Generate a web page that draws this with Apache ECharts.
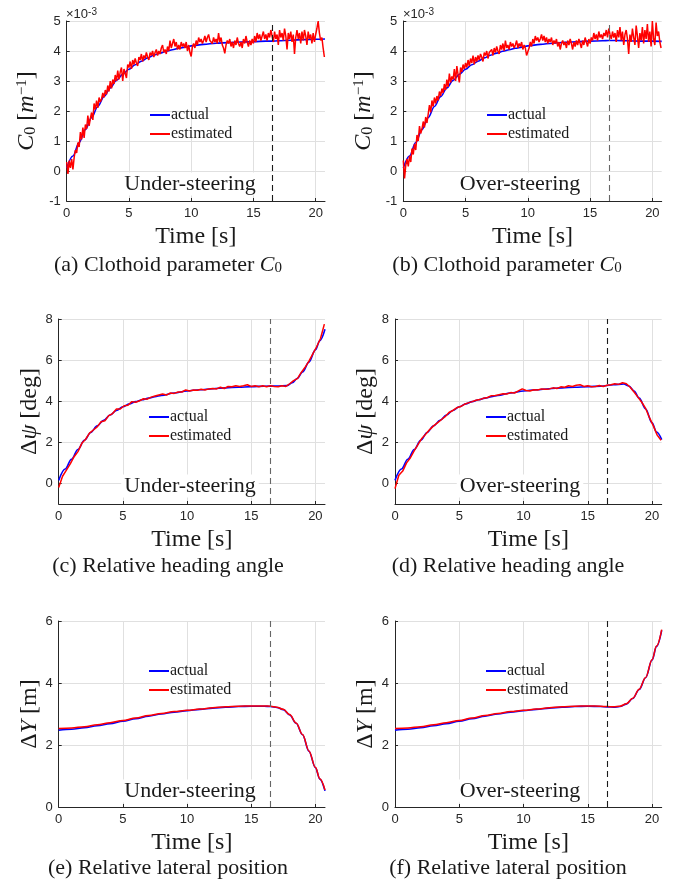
<!DOCTYPE html>
<html><head><meta charset="utf-8">
<script src="https://cdn.jsdelivr.net/npm/echarts@6/dist/echarts.min.js"></script>
<style>html,body{margin:0;padding:0;background:#fff}#c{width:673px;height:895px}</style>
</head><body><div id="c"></div><script>
// ---------- data ----------
const C0_STEP = 0.1;   // s, sampling of the estimated C0 traces (x 1e-3 1/m)
const c0EstUnder = [
 0.30,-0.10,0.35,0.10,0.40,0.05,0.45,0.70,0.60,0.95,
 0.80,1.30,1.05,1.45,1.10,1.55,1.40,1.85,1.50,1.75,
 1.95,1.70,2.25,2.05,2.35,2.10,2.45,2.30,2.40,2.60,
 2.45,2.70,2.55,2.85,2.65,3.00,2.75,3.05,2.90,3.20,
 3.00,3.35,3.05,3.30,3.45,3.00,3.40,3.25,3.10,3.55,
 3.45,3.65,3.40,3.70,3.55,3.75,3.60,3.50,3.80,3.70,
 3.90,3.65,3.85,3.75,3.95,3.80,3.70,3.95,3.85,4.00,
 3.80,3.95,4.05,3.85,4.00,3.90,4.10,4.20,3.95,4.05,
 3.90,4.15,4.00,4.35,4.10,4.25,4.40,4.15,4.30,4.05,
 4.20,4.05,4.30,4.15,4.25,4.10,4.30,4.00,4.20,3.95,
 3.82,4.15,4.25,4.10,4.35,4.20,4.45,4.30,4.40,4.25,
 4.35,4.50,4.30,4.45,4.55,4.35,4.40,4.25,4.45,4.30,
 4.40,4.25,4.60,4.30,4.45,4.20,4.10,3.92,4.20,4.35,
 4.25,4.40,4.15,4.30,4.10,4.35,4.20,4.45,4.25,4.15,
 4.30,4.10,4.40,4.25,4.50,4.30,4.15,4.35,4.20,4.40,
 4.25,4.50,4.30,4.60,4.40,4.55,4.35,4.50,4.65,4.40,
 4.55,4.35,4.60,4.45,4.70,4.50,4.30,4.65,4.40,4.55,
 4.20,4.70,4.45,4.60,4.35,4.75,4.50,4.05,4.60,4.40,
 4.65,4.30,4.55,3.90,4.45,4.70,4.40,4.60,4.25,4.65,
 4.35,4.70,4.50,4.20,4.65,4.40,4.55,4.25,4.60,4.30,
 4.55,4.75,5.00,4.60,4.35,4.45,4.10,3.80
];
const c0EstOver = [
 0.35,-0.25,0.20,0.40,0.15,0.50,0.30,0.75,0.55,0.90,
 0.70,1.20,1.00,1.50,1.25,1.40,1.65,1.45,1.80,1.60,
 1.90,2.20,1.95,2.35,2.15,2.45,2.25,2.50,2.35,2.65,
 2.50,2.75,2.60,2.90,2.70,3.05,2.80,3.25,2.95,3.15,
 3.05,3.40,3.00,3.50,3.20,2.95,3.45,3.30,3.55,3.40,
 3.60,3.45,3.70,3.50,3.75,3.60,3.85,3.55,3.80,3.65,
 3.85,3.70,3.90,3.80,3.65,3.95,3.85,4.00,3.75,3.95,
 3.90,4.05,3.85,4.10,3.95,4.15,4.00,3.90,4.20,4.05,
 4.25,4.00,4.35,4.10,4.20,4.05,4.30,4.15,4.25,4.10,
 4.20,4.35,4.10,4.25,4.15,4.30,4.05,4.20,4.10,3.85,
 3.80,4.10,4.30,4.15,4.40,4.25,4.50,4.35,4.45,4.30,
 4.40,4.55,4.35,4.50,4.30,4.45,4.25,4.40,4.30,4.45,
 4.20,4.35,4.25,4.40,4.15,4.30,4.05,4.25,4.35,4.20,
 4.30,4.10,4.35,4.20,4.40,4.25,4.05,4.30,4.15,4.35,
 4.20,4.40,4.25,4.10,4.35,4.20,4.45,4.30,4.15,4.40,
 4.25,4.45,4.35,4.60,4.40,4.55,4.35,4.65,4.45,4.55,
 4.40,4.60,4.50,4.70,4.45,4.75,4.55,4.40,4.65,4.45,
 4.60,4.30,4.70,4.45,4.80,4.35,4.65,4.20,4.55,4.70,
 4.40,3.90,4.55,4.30,4.75,4.45,4.20,4.85,4.50,4.10,
 4.60,4.35,4.80,4.25,4.70,4.40,4.90,4.30,4.65,4.15,
 5.00,4.40,4.20,4.95,4.50,4.65,4.30,4.10
];
const c0ActT = [0,0.5,1,1.5,2,2.5,3,3.5,4,4.5,5,5.5,6,6.5,7,7.5,8,8.5,9,9.5,10,11,12,13,14,15,16,16.5,17,18,19,20,20.75];
const c0ActUnder = [0.1,0.5,0.95,1.38,1.78,2.15,2.48,2.77,3.02,3.22,3.39,3.54,3.66,3.77,3.86,3.93,3.99,4.04,4.09,4.13,4.17,4.22,4.26,4.28,4.30,4.31,4.33,4.33,4.34,4.36,4.38,4.39,4.40];
const c0ActOver  = [0.1,0.5,0.95,1.38,1.78,2.15,2.48,2.77,3.02,3.22,3.39,3.54,3.66,3.77,3.86,3.93,3.99,4.04,4.09,4.13,4.17,4.22,4.26,4.29,4.31,4.33,4.34,4.35,4.35,4.34,4.33,4.33,4.32];

const PSI_STEP = 0.3;  // s, sampling of the estimated heading traces (deg)
const psiEstUnder = [
 -0.2,0.35,0.65,0.95,1.3,1.55,1.95,2.15,2.45,2.6,
 2.75,3.0,3.05,3.3,3.4,3.62,3.62,3.78,3.8,3.98,
 3.95,4.02,4.12,4.1,4.2,4.25,4.3,4.35,4.3,4.4,
 4.38,4.45,4.45,4.55,4.5,4.55,4.53,4.58,4.55,4.6,
 4.62,4.6,4.68,4.62,4.72,4.7,4.75,4.72,4.75,4.8,
 4.72,4.75,4.7,4.75,4.7,4.75,4.72,4.7,4.75,4.72,
 4.85,5.0,5.1,5.4,5.65,5.95,6.3,6.65,7.05,7.75
];
const psiEstOver = [
 -0.25,0.4,0.6,1.0,1.25,1.6,1.9,2.2,2.4,2.62,
 2.8,2.95,3.1,3.25,3.45,3.55,3.68,3.74,3.85,3.92,
 3.98,4.05,4.08,4.15,4.18,4.27,4.28,4.32,4.36,4.35,
 4.42,4.4,4.5,4.6,4.52,4.5,4.56,4.55,4.6,4.58,
 4.6,4.65,4.62,4.7,4.68,4.75,4.72,4.78,4.8,4.72,
 4.75,4.7,4.72,4.76,4.72,4.78,4.8,4.85,4.82,4.9,
 4.85,4.68,4.45,4.2,3.95,3.65,3.2,2.8,2.35,2.1
];
const psiActT = [0,0.5,1,1.5,2,2.5,3,3.5,4,4.5,5,5.5,6,6.5,7,7.5,8,9,10,11,12,13,14,15,16,17,17.8,18.2,18.6,19,19.5,20,20.35,20.75];
const psiActUnder = [0.15,0.7,1.18,1.65,2.1,2.48,2.8,3.07,3.33,3.55,3.73,3.87,3.98,4.07,4.15,4.22,4.28,4.4,4.5,4.56,4.61,4.65,4.68,4.71,4.73,4.74,4.76,4.9,5.12,5.42,5.9,6.5,6.95,7.5];
const psiActOver  = [0.15,0.7,1.18,1.65,2.1,2.48,2.8,3.07,3.33,3.55,3.73,3.87,3.98,4.07,4.15,4.22,4.28,4.4,4.5,4.56,4.61,4.65,4.68,4.71,4.73,4.8,4.84,4.74,4.5,4.15,3.62,2.95,2.5,2.13];

const latT = [0,1,2,3,4,5,6,7,8,9,10,11,12,13,14,15,16,16.5,17,17.5,18,18.5,19,19.5,20,20.35,20.75];
const latActUnder = [2.48,2.51,2.56,2.62,2.69,2.77,2.85,2.93,3.0,3.06,3.11,3.15,3.19,3.22,3.24,3.25,3.25,3.24,3.21,3.14,2.97,2.7,2.33,1.8,1.27,0.9,0.52];
const latEstUnder = [2.53,2.55,2.59,2.65,2.72,2.79,2.87,2.95,3.02,3.08,3.12,3.16,3.2,3.23,3.25,3.26,3.26,3.25,3.22,3.15,2.98,2.71,2.34,1.81,1.28,0.91,0.55];
const latActOver  = [2.48,2.51,2.56,2.62,2.69,2.77,2.85,2.93,3.0,3.06,3.11,3.15,3.19,3.22,3.24,3.25,3.24,3.23,3.22,3.24,3.32,3.5,3.79,4.17,4.74,5.18,5.7];
const latEstOver  = [2.53,2.55,2.59,2.65,2.72,2.79,2.87,2.95,3.02,3.08,3.12,3.16,3.2,3.23,3.25,3.26,3.25,3.24,3.23,3.25,3.33,3.51,3.8,4.18,4.75,5.19,5.72];

const SWITCH_T = 16.5;
const legendNames = ['actual', 'estimated'];

// ---------- helpers ----------
const pairs = (ts, vs) => vs.map((v, i) => [ts[i], v]);
const stepPairs = (step, vs) => vs.map((v, i) => [Math.round(i * step * 100) / 100, v]);

const SERIF = 'Liberation Serif', SANS = 'Liberation Sans';
const INK = '#262626', TXT = '#1a1a1a', GRIDC = '#e0e0e0';
const richTxt = (fs) => ({
  i: {fontStyle: 'italic', fontFamily: SERIF, fontSize: fs, color: TXT, fill: TXT},
  s: {fontFamily: SERIF, fontSize: Math.round(fs * 0.68), verticalAlign: 'bottom', color: TXT, fill: TXT},
  p: {fontFamily: SERIF, fontSize: Math.round(fs * 0.62), verticalAlign: 'top', color: TXT, fill: TXT}
});

const panels = [
 {g: [66.7, 21, 258.3, 180], y: [-1, 5, 1], yName: '{i|C}{s|0} [{i|m}{p|−1}]', yGap: 28,
  act: pairs(c0ActT, c0ActUnder), est: stepPairs(C0_STEP, c0EstUnder), dash: '#1a1a1a',
  leg: [150, 107], note: 'Under-steering', noteXY: [190, 184], cap: '(a) Clothoid parameter {i|C}{s|0}', capXY: [168, 265]},
 {g: [403.3, 21, 258.4, 180], y: [-1, 5, 1], yName: '{i|C}{s|0} [{i|m}{p|−1}]', yGap: 28,
  act: pairs(c0ActT, c0ActOver), est: stepPairs(C0_STEP, c0EstOver), dash: '#666666',
  leg: [487, 107], note: 'Over-steering', noteXY: [520, 184], cap: '(b) Clothoid parameter {i|C}{s|0}', capXY: [507, 265]},
 {g: [58.7, 319, 266.3, 185], y: [-1, 8, 2], yName: 'Δ{i|ψ} [deg]', yGap: 16,
  act: pairs(psiActT, psiActUnder), est: stepPairs(PSI_STEP, psiEstUnder), dash: '#666666',
  leg: [149, 409], note: 'Under-steering', noteXY: [190, 486], cap: '(c) Relative heading angle', capXY: [168, 566]},
 {g: [395, 319, 266.7, 185], y: [-1, 8, 2], yName: 'Δ{i|ψ} [deg]', yGap: 16,
  act: pairs(psiActT, psiActOver), est: stepPairs(PSI_STEP, psiEstOver), dash: '#1a1a1a',
  leg: [486, 409], note: 'Over-steering', noteXY: [520, 486], cap: '(d) Relative heading angle', capXY: [508, 566]},
 {g: [58.7, 621, 266.3, 186], y: [0, 6, 2], yName: 'Δ{i|Y} [m]', yGap: 16,
  act: pairs(latT, latActUnder), est: pairs(latT, latEstUnder), dash: '#666666',
  leg: [149, 663], note: 'Under-steering', noteXY: [190, 791], cap: '(e) Relative lateral position', capXY: [168, 868]},
 {g: [395, 621, 266.7, 186], y: [0, 6, 2], yName: 'Δ{i|Y} [m]', yGap: 16,
  act: pairs(latT, latActOver), est: pairs(latT, latEstOver), dash: '#1a1a1a',
  leg: [486, 663], note: 'Over-steering', noteXY: [520, 791], cap: '(f) Relative lateral position', capXY: [508, 868]}
];

const grid = [], xAxis = [], yAxis = [], series = [], legend = [], graphic = [];
panels.forEach((p, k) => {
  grid.push({left: p.g[0], top: p.g[1], width: p.g[2], height: p.g[3], containLabel: false});
  xAxis.push({
    type: 'value', gridIndex: k, min: 0, max: 20.75, minInterval: 5, maxInterval: 5,
    name: 'Time [s]', nameLocation: 'middle', nameGap: 24,
    nameTextStyle: {fontFamily: SERIF, fontSize: 24, color: TXT},
    axisLine: {show: true, onZero: false, lineStyle: {color: INK, width: 1}},
    axisTick: {show: true, inside: true, length: 3, lineStyle: {color: INK}},
    axisLabel: {fontFamily: SANS, fontSize: 13, color: INK, margin: 6, showMaxLabel: false},
    splitLine: {show: true, showMaxLine: false, showMinLine: false, lineStyle: {color: GRIDC, width: 1}}
  });
  yAxis.push({
    type: 'value', gridIndex: k, min: p.y[0], max: p.y[1], minInterval: p.y[2], maxInterval: p.y[2],
    name: p.yName, nameLocation: 'middle', nameGap: p.yGap, nameRotate: 90,
    nameTextStyle: {fontFamily: SERIF, fontSize: 24, color: TXT, rich: richTxt(24)},
    axisLine: {show: true, onZero: false, lineStyle: {color: INK, width: 1}},
    axisTick: {show: true, inside: true, length: 3, lineStyle: {color: INK}},
    axisLabel: {fontFamily: SANS, fontSize: 13, color: INK, margin: 6,
                showMinLabel: (p.y[0] % p.y[2] === 0)},
    splitLine: {show: true, showMinLine: false, lineStyle: {color: GRIDC, width: 1}}
  });
  series.push({
    type: 'line', name: 'actual', xAxisIndex: k, yAxisIndex: k, data: p.act,
    showSymbol: false, symbol: 'none', smooth: 0.35, smoothMonotone: 'x',
    lineStyle: {color: '#0000ff', width: 1.6}, itemStyle: {color: '#0000ff'},
    silent: true, animation: false, z: 2,
    markLine: {silent: true, symbol: ['none', 'none'], animation: false, label: {show: false},
      lineStyle: {color: p.dash, type: [6, 4], width: 1.1},
      data: [{xAxis: SWITCH_T}]}
  });
  series.push({
    type: 'line', name: 'estimated', xAxisIndex: k, yAxisIndex: k, data: p.est,
    showSymbol: false, symbol: 'none', smooth: (k >= 4 ? 0.35 : false), smoothMonotone: 'x',
    lineStyle: {color: '#ff0000', width: 1.5}, itemStyle: {color: '#ff0000'},
    silent: true, animation: false, z: 3
  });
  legend.push({
    show: true, left: p.leg[0], top: p.leg[1], orient: 'vertical', itemGap: 3,
    itemWidth: 20, itemHeight: 2, icon: 'rect', padding: 0, selectedMode: false,
    data: legendNames,
    textStyle: {fontFamily: SERIF, fontSize: 16, color: TXT, padding: [0, 0, 0, -4]}
  });
  graphic.push({type: 'text', x: p.noteXY[0], y: p.noteXY[1], silent: true, z: 10,
    style: {text: p.note, fontFamily: SERIF, fontSize: 22, fill: TXT, align: 'center', verticalAlign: 'middle',
            backgroundColor: '#ffffff', padding: [1, 3, 0, 3]}});
  graphic.push({type: 'text', x: p.capXY[0], y: p.capXY[1], silent: true,
    style: {text: p.cap, fontFamily: SERIF, fontSize: 22, fill: TXT, align: 'center', verticalAlign: 'middle',
            rich: richTxt(22)}});
});
// exponent labels for the C0 panels
[[66, 14], [403, 14]].forEach(xy => {
  graphic.push({type: 'text', x: xy[0], y: xy[1], silent: true,
    style: {text: '×10{p|-3}', fontFamily: SANS, fontSize: 13, fill: INK, align: 'left', verticalAlign: 'middle',
            rich: {p: {fontFamily: SANS, fontSize: 10, fill: INK, verticalAlign: 'top'}}}});
});

const chart = echarts.init(document.getElementById('c'), null, {renderer: 'canvas'});
chart.setOption({animation: false, backgroundColor: '#ffffff', grid, xAxis, yAxis, series, legend, graphic});
</script></body></html>
